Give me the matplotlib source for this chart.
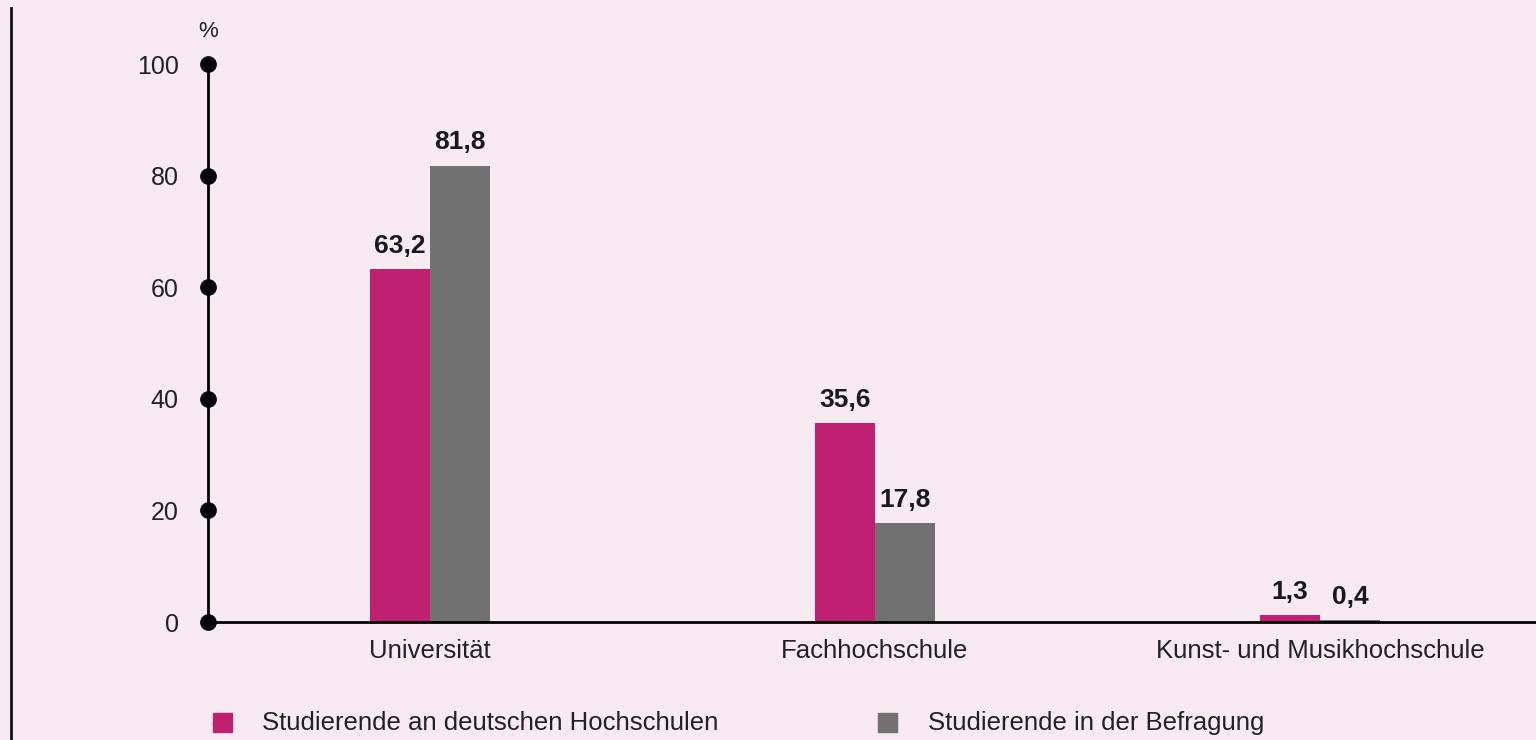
import numpy as np
import matplotlib
matplotlib.use('Agg')
from matplotlib import pyplot as plt
from matplotlib.lines import Line2D

plt.rcParams['font.family'] = ['Liberation Sans Narrow', 'Liberation Sans', 'DejaVu Sans']

categories = ['Universität', 'Fachhochschule', 'Kunst- und Musikhochschule']
series_names = ['Studierende an deutschen Hochschulen', 'Studierende in der Befragung']
hochschulen = [63.2, 35.6, 1.3]
befragung = [81.8, 17.8, 0.4]
labels_hs = ['63,2', '35,6', '1,3']
labels_bf = ['81,8', '17,8', '0,4']
yticks = [0, 20, 40, 60, 80, 100]

bg = '#f7ebf1'
c_hs = '#bf2170'
c_bf = '#717171'
txt = '#222222'

fig = plt.figure(figsize=(15.36, 7.40), dpi=100, facecolor=bg)
ax = fig.add_axes([208 / 1536, 1 - 622 / 740, 1 - 208 / 1536, (622 - 64) / 740])
ax.set_facecolor(bg)

x = np.arange(len(categories))
w = 0.135
ax.bar(x - w / 2, hochschulen, w, color=c_hs, zorder=2)
ax.bar(x + w / 2, befragung, w, color=c_bf, zorder=2)

for xi, v, s in zip(x - w / 2, hochschulen, labels_hs):
    ax.text(xi, v + 2.0, s, ha='center', va='bottom', fontsize=19, fontweight='bold', color='#1a1a1a')
for xi, v, s in zip(x + w / 2, befragung, labels_bf):
    ax.text(xi, v + 2.0, s, ha='center', va='bottom', fontsize=19, fontweight='bold', color='#1a1a1a')

ax.set_xlim((208 - 430) / 445, (1536 - 430) / 445)
ax.set_ylim(0, 100)
for sp in ['top', 'right']:
    ax.spines[sp].set_visible(False)
ax.spines['left'].set_linewidth(2)
ax.spines['bottom'].set_linewidth(2)
ax.spines['left'].set_zorder(3)
ax.spines['bottom'].set_zorder(3)

ax.set_yticks(yticks)
ax.set_yticklabels([str(t) for t in yticks], fontsize=18, color=txt)
ax.tick_params(axis='y', length=0, pad=21)
ax.plot([ax.get_xlim()[0]] * len(yticks), yticks, 'o', color='black', ms=11,
        clip_on=False, zorder=4)

ax.set_xticks(x)
ax.set_xticklabels(categories, fontsize=18.5, color=txt)
ax.tick_params(axis='x', length=0, pad=12)

ax.text(ax.get_xlim()[0], 104, '%', ha='center', va='bottom', fontsize=16, color=txt)

# left border line
fig.add_artist(Line2D([11 / 1536, 11 / 1536], [0, 1 - 8 / 740], color='#111111', lw=2))

# legend
for xs, xt, col, name in [(213, 262, c_hs, series_names[0]), (878, 928, c_bf, series_names[1])]:
    fig.patches.append(plt.Rectangle((xs / 1536, 1 - 732 / 740), 19 / 1536, 19 / 740,
                                     transform=fig.transFigure, color=col))
    fig.text(xt / 1536, 1 - 723 / 740, name, ha='left', va='center', fontsize=18.5, color=txt)

fig.savefig('out.png', facecolor=bg)
